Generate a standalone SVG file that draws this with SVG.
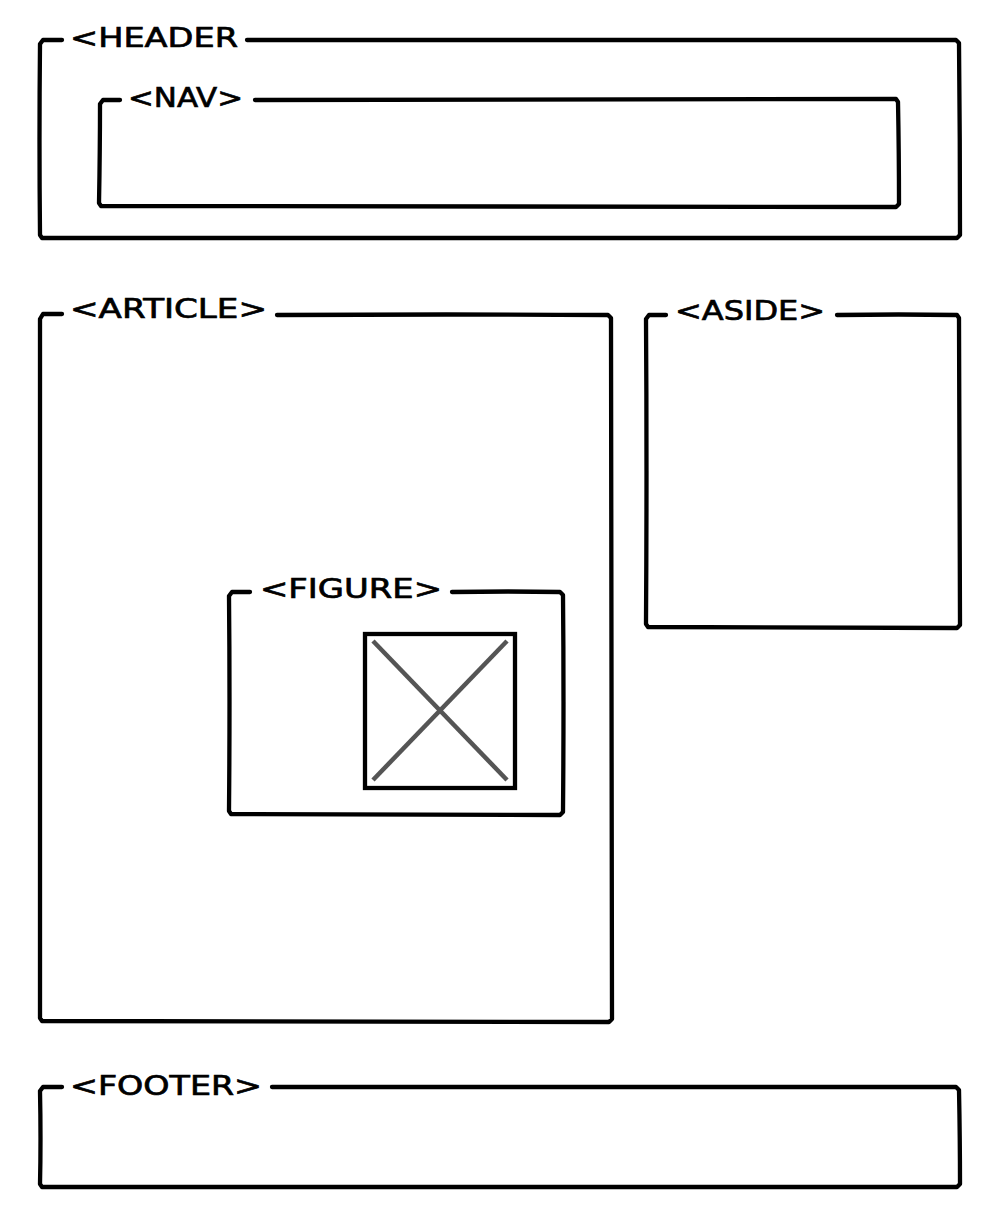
<svg xmlns="http://www.w3.org/2000/svg" width="1000" height="1222" viewBox="0 0 1000 1222">
<style>
.box{fill:none;stroke:#000;stroke-width:4.3;stroke-linecap:round;stroke-linejoin:round}
.lbl{font-family:"DejaVu Sans","Liberation Sans",sans-serif;font-size:27px;fill:#000;stroke:#000;stroke-width:0.7}
.cross{stroke:#555;stroke-width:4.5;stroke-linecap:butt}
</style>
<rect width="1000" height="1222" fill="#fff"/>
<g id="header">
<path class="box" d="M247,40 Q600,39 956,40 L959,43 Q960,140 960,235 L957,238 Q500,237 42,238 L40,235 Q39,140 40,44 L43,40 L62,40"/>
<text class="lbl" x="70" y="47" textLength="168" lengthAdjust="spacingAndGlyphs">&lt;HEADER</text>
</g>
<g id="nav">
<path class="box" d="M255,100 Q580,99 896,99 L898,102 Q899,155 899,204 L896,207 Q500,206 101,206 L99,203 Q100,150 100,104 L103,100 L120,100"/>
<text class="lbl" x="128" y="107" textLength="115" lengthAdjust="spacingAndGlyphs">&lt;NAV&gt;</text>
</g>
<g id="article">
<path class="box" d="M277,315 Q450,314 608,315 L611,318 Q611,670 612,1019 L609,1022 Q330,1021 42,1021 L40,1018 Q41,670 40,319 L43,314 L62,314"/>
<text class="lbl" x="70" y="318" textLength="197" lengthAdjust="spacingAndGlyphs">&lt;ARTICLE&gt;</text>
</g>
<g id="aside">
<path class="box" d="M837,315 Q900,314 957,315 L959,318 Q960,470 960,625 L957,628 Q800,627 648,627 L646,624 Q647,470 646,319 L649,315 L666,315"/>
<text class="lbl" x="675" y="320" textLength="150" lengthAdjust="spacingAndGlyphs">&lt;ASIDE&gt;</text>
</g>
<g id="figure">
<path class="box" d="M452,592 Q510,591 560,592 L563,595 Q564,700 563,812 L560,815 Q400,814 231,814 L229,811 Q230,700 229,596 L232,592 L250,592"/>
<text class="lbl" x="260" y="598" textLength="182" lengthAdjust="spacingAndGlyphs">&lt;FIGURE&gt;</text>
</g>
<g id="image">
<rect x="365" y="634" width="150" height="154" fill="none" stroke="#000" stroke-width="4.3"/>
<line class="cross" x1="373" y1="641" x2="507" y2="780"/>
<line class="cross" x1="373" y1="780" x2="507" y2="641"/>
</g>
<g id="footer">
<path class="box" d="M272,1087 Q620,1086 956,1087 L959,1090 Q960,1140 960,1184 L957,1187 Q500,1186 42,1187 L40,1184 Q41,1140 40,1091 L43,1087 L62,1087"/>
<text class="lbl" x="70" y="1095" textLength="192" lengthAdjust="spacingAndGlyphs">&lt;FOOTER&gt;</text>
</g>
<g id="connectors"></g>
</svg>
